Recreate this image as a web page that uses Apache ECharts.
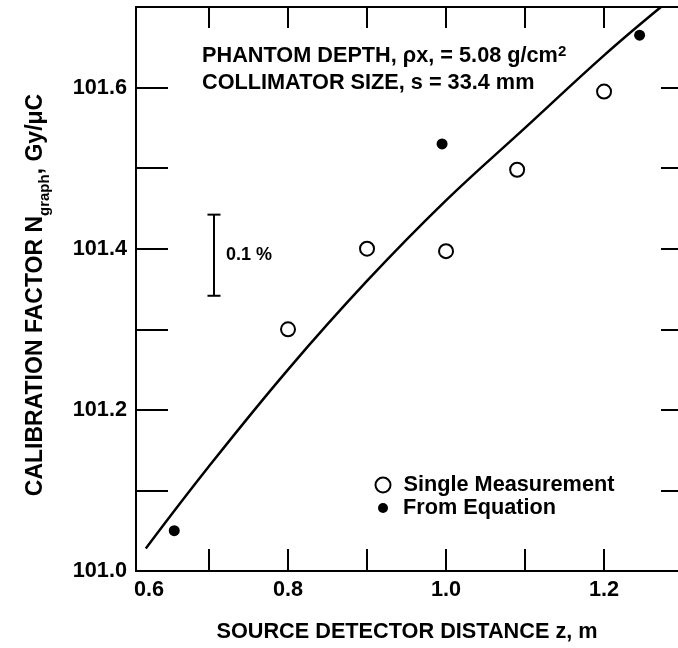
<!DOCTYPE html>
<html><head><meta charset="utf-8">
<script src="https://cdn.jsdelivr.net/npm/echarts@6/dist/echarts.min.js"></script>
<style>html,body{margin:0;padding:0;background:#fff}#c{width:678px;height:648px}</style>
</head><body><div id="c"></div>
<script>
const FONT = '"Liberation Sans", Arial, Helvetica, sans-serif';
const FS = 21.7;

// axis ranges / ticks (plot extends past the right edge of the picture)
const xMin = 0.6076, xMax = 1.2936;
const yMin = 101.0, yMax = 101.7;
const xTickValues = [0.7, 0.8, 0.9, 1.0, 1.1, 1.2];
const xTickLabels = ['0.6', '0.8', '1.0', '1.2'];
const yTickLabels = ['101.0', '101.2', '101.4', '101.6'];

// data
const singleX = [0.80, 0.90, 1.00, 1.09, 1.20];
const singleY = [101.30, 101.40, 101.397, 101.498, 101.595];
const equationX = [0.656, 0.995, 1.245];
const equationY = [101.05, 101.53, 101.665];
const curveX = [0.62, 0.70, 0.80, 0.90, 1.00, 1.10, 1.20, 1.272];
const curveY = [101.028, 101.13, 101.25, 101.36, 101.46, 101.55, 101.64, 101.70];

// 0.1 % scale bar
const barX = [0.7063];
const barY = [101.3416, 101.4423];
const barLabel = ['0.1 %'];

const zip = (a, b) => a.map((v, i) => [v, b[i]]);

const chart = echarts.init(document.getElementById('c'), null, {renderer: 'canvas'});

const axisLineStyle = {color: '#000', width: 2};
const tickStyle = {color: '#000', width: 2};

const option = {
  backgroundColor: '#fff',
  animation: false,
  textStyle: {fontFamily: FONT},
  grid: {left: 136, top: 7, right: 0, bottom: 648 - 575, containLabel: false},
  legend: [
    {
      data: [{name: 'Single Measurement', icon: 'circle'}],
      left: 374.5, top: 474, padding: 0, itemWidth: 15, itemHeight: 15,
      selectedMode: false,
      textStyle: {fontFamily: FONT, fontSize: FS, fontWeight: 'bold', color: '#000', padding: [0, 0, 0, 8], lineHeight: 22}
    },
    {
      data: [{name: 'From Equation', icon: 'circle'}],
      left: 378, top: 497, padding: 0, itemWidth: 10, itemHeight: 10,
      selectedMode: false,
      textStyle: {fontFamily: FONT, fontSize: FS, fontWeight: 'bold', color: '#000', padding: [0, 0, 0, 10], lineHeight: 22}
    }
  ],
  xAxis: [
    {
      type: 'value', min: xMin, max: xMax, position: 'bottom',
      axisLine: {show: true, onZero: false, lineStyle: axisLineStyle},
      axisTick: {show: true, inside: true, length: 22, lineStyle: tickStyle, customValues: xTickValues},
      splitLine: {show: false},
      axisLabel: {
        show: true, margin: 8, color: '#000', fontFamily: FONT, fontSize: FS, fontWeight: 'bold',
        customValues: xTickLabels.map(s => Math.max(Number(s), xMin)),
        formatter: function (v) {
          let best = 0;
          xTickLabels.forEach((s, i) => { if (Math.abs(Number(s) - v) < Math.abs(Number(xTickLabels[best]) - v)) best = i; });
          return best === 0 ? '{f|' + xTickLabels[0] + '}' : xTickLabels[best];
        },
        rich: {f: {fontFamily: FONT, fontSize: FS, fontWeight: 'bold', color: '#000', padding: [0, 0, 0, 26]}}
      },
      name: 'SOURCE DETECTOR DISTANCE z, m',
      nameLocation: 'middle', nameGap: 50,
      nameTextStyle: {fontFamily: FONT, fontSize: FS, fontWeight: 'bold', color: '#000'}
    },
    {
      type: 'value', min: xMin, max: xMax, position: 'top',
      axisLine: {show: true, onZero: false, lineStyle: axisLineStyle},
      axisTick: {show: true, inside: true, length: 21, lineStyle: tickStyle, customValues: xTickValues},
      axisLabel: {show: false}, splitLine: {show: false}
    }
  ],
  yAxis: [
    {
      type: 'value', min: yMin, max: yMax, interval: 0.1, position: 'left',
      axisLine: {show: true, onZero: false, lineStyle: axisLineStyle},
      axisTick: {show: true, inside: true, length: 32, lineStyle: tickStyle},
      splitLine: {show: false},
      axisLabel: {
        show: true, margin: 9, color: '#000', fontFamily: FONT, fontSize: FS, fontWeight: 'bold',
        customValues: yTickLabels.map(Number),
        formatter: v => yTickLabels.find(s => Math.abs(Number(s) - v) < 1e-6) || ''
      },
      name: '{a|CALIBRATION FACTOR N}{s|graph}{a|, Gy/μC}',
      nameLocation: 'middle', nameGap: 84, nameRotate: 90,
      nameTextStyle: {
        color: '#000',
        padding: [0, 12, 0, 0],
        rich: {
          a: {fontFamily: FONT, fontSize: 23, fontWeight: 'bold', color: '#000', lineHeight: 32, verticalAlign: 'middle'},
          s: {fontFamily: FONT, fontSize: 15, fontWeight: 'bold', color: '#000', lineHeight: 32, verticalAlign: 'bottom'}
        }
      }
    },
    {
      type: 'value', min: yMin, max: yMax, interval: 0.1, position: 'right',
      axisLine: {show: false},
      axisTick: {show: true, inside: true, length: 17, lineStyle: tickStyle},
      axisLabel: {show: false}, splitLine: {show: false}
    }
  ],
  graphic: [
    {
      type: 'text', left: 202, top: 44, silent: true,
      style: {
        text: '{a|PHANTOM DEPTH, ρx, = 5.08 g/cm}{s|2}',
        rich: {
          a: {fontFamily: FONT, fontSize: FS, fontWeight: 'bold', fill: '#000', lineHeight: 24, verticalAlign: 'middle'},
          s: {fontFamily: FONT, fontSize: 15, fontWeight: 'bold', fill: '#000', lineHeight: 24, verticalAlign: 'top'}
        }
      }
    },
    {
      type: 'text', left: 202, top: 72, silent: true,
      style: {text: 'COLLIMATOR SIZE, s = 33.4 mm', fontFamily: FONT, fontSize: FS, fontWeight: 'bold', fill: '#000'}
    }
  ],
  series: [
    {
      name: 'Curve', type: 'line', smooth: 0.4, symbol: 'none',
      data: zip(curveX, curveY),
      lineStyle: {color: '#000', width: 2.5}, silent: true, z: 2
    },
    {
      name: 'Single Measurement', type: 'scatter', symbol: 'circle', symbolSize: 14,
      data: zip(singleX, singleY),
      itemStyle: {color: '#fff', borderColor: '#000', borderWidth: 2, opacity: 1}, z: 3
    },
    {
      name: 'From Equation', type: 'scatter', symbol: 'circle', symbolSize: 11,
      data: zip(equationX, equationY),
      itemStyle: {color: '#000', opacity: 1}, z: 3
    },
    {
      name: 'ScaleBar', type: 'custom', silent: true,
      data: [[barX[0], barY[0], barY[1]]],
      renderItem: function (params, api) {
        const p0 = api.coord([api.value(0), api.value(1)]);
        const p1 = api.coord([api.value(0), api.value(2)]);
        const cap = 6.5;
        const st = {stroke: '#000', lineWidth: 2};
        return {
          type: 'group',
          children: [
            {type: 'line', shape: {x1: p0[0], y1: p0[1], x2: p1[0], y2: p1[1]}, style: st},
            {type: 'line', shape: {x1: p0[0] - cap, y1: p0[1], x2: p0[0] + cap, y2: p0[1]}, style: st},
            {type: 'line', shape: {x1: p1[0] - cap, y1: p1[1], x2: p1[0] + cap, y2: p1[1]}, style: st},
            {type: 'text', x: p0[0] + 12, y: (p0[1] + p1[1]) / 2,
             style: {text: barLabel[0], fontFamily: FONT, fontSize: 18, fontWeight: 'bold', fill: '#000', verticalAlign: 'middle', align: 'left'}}
          ]
        };
      }
    }
  ]
};
chart.setOption(option);
</script></body></html>
